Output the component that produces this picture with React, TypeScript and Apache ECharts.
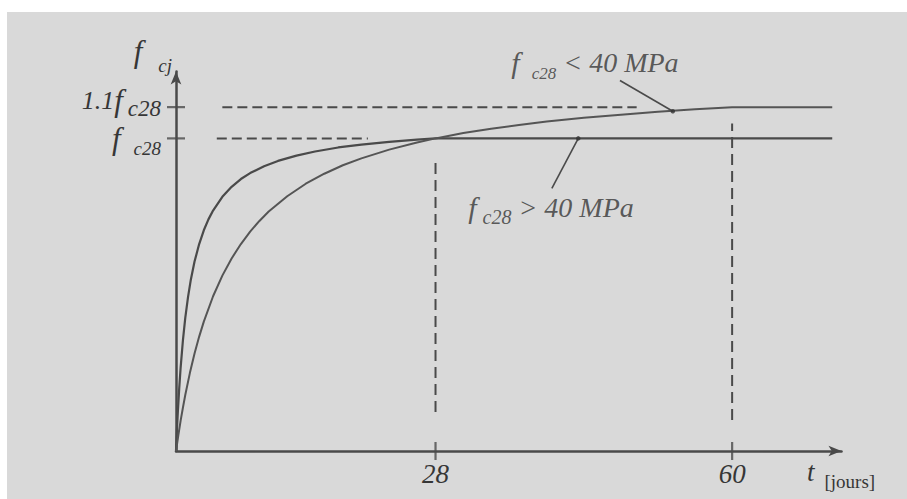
import React, { useEffect, useRef } from "react";
import * as echarts from "echarts";

// Age of the concrete (days) and relative strength fcj / fc28 along each curve
const curveHighT = [0, 0.1, 0.2, 0.35, 0.5, 0.75, 1, 1.3, 1.6, 2, 2.5, 3, 3.5, 4, 5, 6, 7, 8, 9.5, 11, 13, 15, 17.5, 20, 23, 26, 28, 70.8];
const curveHighF = [0, 0.067, 0.126, 0.202, 0.267, 0.355, 0.426, 0.493, 0.548, 0.606, 0.662, 0.706, 0.741, 0.769, 0.813, 0.845, 0.87, 0.889, 0.911, 0.928, 0.945, 0.958, 0.971, 0.98, 0.989, 0.996, 1.0, 1.0];
const curveLowT = [0, 0.25, 0.5, 0.75, 1, 1.5, 2, 2.5, 3, 4, 5, 6, 7, 8, 9, 10, 12, 14, 16, 18, 20, 23, 26, 28, 31, 34, 37, 40, 44, 48, 52, 56, 60, 70.8];
const curveLowF = [0, 0.05, 0.097, 0.139, 0.179, 0.25, 0.312, 0.366, 0.414, 0.495, 0.561, 0.616, 0.662, 0.702, 0.736, 0.766, 0.815, 0.855, 0.887, 0.914, 0.936, 0.964, 0.987, 1.0, 1.017, 1.031, 1.043, 1.054, 1.066, 1.076, 1.085, 1.093, 1.1, 1.1];

// Dashed guide lines [t, f]
const guideTop = [[5.0, 1.1], [49.7, 1.1]];
const guideMid = [[4.4, 1.0], [20.7, 1.0]];
const guide28 = [[28, 0.125], [28, 0.93]];
const guide60 = [[60, 0.099], [60, 1.048]];

// Axis marks
const tickDays = [28, 60];
const tickLevels = [1, 1.1];

// Callouts: leader lines and label anchors
const leaderLow = [[47.9, 1.185], [53.6, 1.087]];
const leaderHigh = [[43.4, 1.0], [40.55, 0.84]];
const noteAnchors = [[45.2, 1.243], [40.46, 0.779]];
const noteTexts = ["{F|f}{s1|c28}{m| < 40 MPa}", "{F|f}{s2|c28}{m| > 40 MPa}"];

const SERIF = "'Liberation Serif', 'Times New Roman', serif";
const INK = "#363636";
const LINE = "#4a4a4a";
const Y_MAX = 1.214;

const it = (fontSize: number, extra: Record<string, unknown> = {}) => ({
  fontFamily: SERIF,
  fontStyle: "italic",
  fontSize,
  color: INK,
  ...extra,
});

const zip = (a: number[], b: number[]) => a.map((v, i) => [v, b[i]]);

export default function App() {
  const ref = useRef<HTMLDivElement>(null);

  useEffect(() => {
    if (!ref.current) return;
    const chart = echarts.init(ref.current, null, { renderer: "svg" });

    const dashed = (name: string, data: number[][], dash: number[]) => ({
      name,
      type: "line",
      data,
      symbol: "none",
      silent: true,
      lineStyle: { color: LINE, width: 2, type: dash },
      z: 3,
    });

    const axisArrow = {
      show: true,
      symbol: ["none", "arrow"],
      symbolSize: [8, 13],
      lineStyle: { color: LINE, width: 2.5 },
    };

    chart.setOption({
      animation: false,
      backgroundColor: "transparent",
      grid: { left: 176, right: 65.5, top: 71.5, bottom: 48 },
      xAxis: {
        type: "value",
        min: 0,
        max: 71.8,
        splitLine: { show: false },
        axisTick: { show: false },
        axisLine: axisArrow,
        axisLabel: {
          customValues: tickDays,
          margin: 9,
          hideOverlap: false,
          ...it(27),
        },
        name: "{t|t}{j|[jours]}",
        nameLocation: "end",
        nameGap: -34.5,
        nameTextStyle: {
          align: "left",
          verticalAlign: "top",
          padding: [2, 0, 0, 0],
          rich: {
            t: it(27, { lineHeight: 38 }),
            j: {
              fontFamily: SERIF,
              fontSize: 19,
              color: INK,
              lineHeight: 20,
              verticalAlign: "bottom",
              padding: [0, 0, 0, 10],
            },
          },
        },
      },
      yAxis: [
        {
          type: "value",
          min: 0,
          max: Y_MAX,
          splitLine: { show: false },
          axisTick: { show: false },
          axisLine: axisArrow,
          axisLabel: {
            customValues: [tickLevels[0]],
            margin: 15,
            hideOverlap: false,
            formatter: () => "{f|f}{b|c28}",
            rich: {
              f: it(31, { lineHeight: 40 }),
              b: it(19, { lineHeight: 20, verticalAlign: "bottom", padding: [0, 0, 0, 13] }),
            },
          },
          name: "{f|f}{c|cj}",
          nameLocation: "end",
          nameGap: -24,
          nameTextStyle: {
            align: "right",
            verticalAlign: "bottom",
            padding: [0, 4, 0, 0],
            rich: {
              f: it(31, { lineHeight: 34, verticalAlign: "top" }),
              c: it(19, { lineHeight: 60, padding: [0, 0, 0, 16] }),
            },
          },
        },
        {
          // second scale on the same side, carrying only the 1.1 fc28 level
          type: "value",
          position: "left",
          offset: 0,
          min: 0,
          max: Y_MAX,
          splitLine: { show: false },
          axisTick: { show: false },
          axisLine: { show: false },
          axisLabel: {
            customValues: [tickLevels[1]],
            margin: 15,
            hideOverlap: false,
            padding: [0, 0, 14, 0],
            formatter: () => "{n|1.1}{f|f}{a|c28}",
            rich: {
              n: it(26, { lineHeight: 40 }),
              f: it(31, { lineHeight: 40 }),
              a: it(23, { lineHeight: 21, verticalAlign: "bottom", padding: [0, 0, 0, 5] }),
            },
          },
        },
      ],
      series: [
        {
          name: "fc28 > 40 MPa",
          type: "line",
          data: zip(curveHighT, curveHighF),
          symbol: "none",
          lineStyle: { color: LINE, width: 2.2 },
          z: 4,
        },
        {
          name: "fc28 < 40 MPa",
          type: "line",
          data: zip(curveLowT, curveLowF),
          symbol: "none",
          lineStyle: { color: "#555", width: 2 },
          z: 4,
        },
        dashed("guideTop", guideTop, [10, 5]),
        dashed("guideMid", guideMid, [10, 5]),
        dashed("guide28", guide28, [11, 6]),
        dashed("guide60", guide60, [11, 6]),
        {
          name: "leaderLow",
          type: "line",
          data: leaderLow,
          symbol: "none",
          lineStyle: { color: LINE, width: 1.6 },
          z: 5,
        },
        {
          name: "leaderHigh",
          type: "line",
          data: leaderHigh,
          symbol: "none",
          lineStyle: { color: LINE, width: 1.6 },
          z: 5,
        },
        {
          name: "leaderDots",
          type: "scatter",
          data: [leaderLow[1], leaderHigh[0]],
          symbol: "circle",
          symbolSize: 4.5,
          itemStyle: { color: "#333" },
          clip: false,
          z: 6,
        },
        {
          name: "xTicks",
          type: "scatter",
          data: tickDays.map((d) => [d, 0]),
          symbol: "rect",
          symbolSize: [2.2, 18],
          itemStyle: { color: LINE },
          clip: false,
          z: 6,
        },
        {
          name: "yTicks",
          type: "scatter",
          data: tickLevels.map((l) => [0, l]),
          symbol: "rect",
          symbolSize: [18, 2.2],
          itemStyle: { color: LINE },
          clip: false,
          z: 6,
        },
        {
          name: "notes",
          type: "scatter",
          data: noteAnchors,
          symbolSize: 0,
          clip: false,
          z: 7,
          label: {
            show: true,
            position: [0, 0],
            align: "center",
            verticalAlign: "middle",
            formatter: (p: { dataIndex: number }) => noteTexts[p.dataIndex],
            rich: {
              F: it(30, { lineHeight: 40 }),
              s1: it(17, { lineHeight: 20, verticalAlign: "bottom", padding: [0, 0, 0, 12] }),
              s2: it(20, { lineHeight: 22, verticalAlign: "bottom", padding: [0, 0, 0, 6] }),
              m: it(28, { lineHeight: 40 }),
            },
          },
        },
      ],
    });

    return () => chart.dispose();
  }, []);

  return (
    <div style={{ position: "fixed", left: 0, top: 0, width: 907, height: 499, background: "#fff" }}>
      <div style={{ position: "absolute", left: 7, top: 12, right: 0, bottom: 0, background: "#d9d9d9" }} />
      <div ref={ref} style={{ position: "absolute", left: 0, top: 0, width: 907, height: 499 }} />
    </div>
  );
}
